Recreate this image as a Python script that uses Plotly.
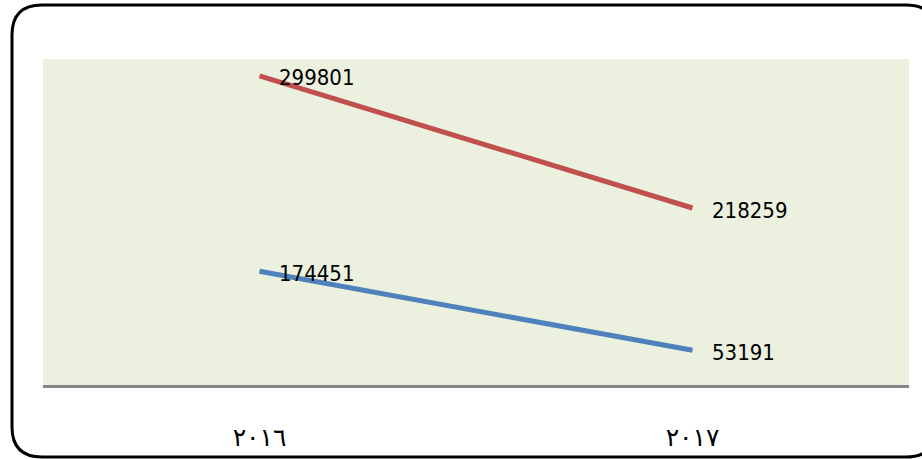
import plotly.graph_objects as go

years = ["٢٠١٦", "٢٠١٧"]
series_blue = [174451, 53191]
series_red = [299801, 218259]

BLUE = "#4F81BD"
RED = "#C0504D"
LABEL_FONT = dict(family="DejaVu Sans Condensed", size=22, color="black")

fig = go.Figure()

# stacked lines, no fill (the red line sits on top of the blue one)
stack = [0, 0]
for vals, col in [(series_blue, BLUE), (series_red, RED)]:
    fig.add_trace(go.Scatter(
        x=years, y=vals, stackgroup="one", fill="none",
        mode="lines", line=dict(color=col, width=5),
        showlegend=False, hoverinfo="skip",
    ))
    stack = [s + v for s, v in zip(stack, vals)]
    for yr, top, v in zip(years, stack, vals):
        fig.add_annotation(x=yr, y=top, text=str(v), showarrow=False,
                           xanchor="left", yanchor="middle", xshift=17, yshift=-2,
                           font=LABEL_FONT)

W, H = 922, 459
ml, mr, mt, mb = 43, 13, 59, 74
pw, ph = W - ml - mr, H - mt - mb


def px(x):
    return (x - ml) / pw


def py(y):
    return (H - mb - y) / ph


# rounded outer frame (right edge runs off the page)
L, R, T, B = px(12), px(936), py(5), py(457)
rx, ry = 30 / pw, 30 / ph
path = (f"M {L+rx},{T} L {R-rx},{T} Q {R},{T} {R},{T-ry} L {R},{B+ry} Q {R},{B} {R-rx},{B} "
        f"L {L+rx},{B} Q {L},{B} {L},{B+ry} L {L},{T-ry} Q {L},{T} {L+rx},{T} Z")
fig.add_shape(type="path", path=path, xref="paper", yref="paper",
              line=dict(color="black", width=3), layer="above")

fig.update_layout(
    width=W, height=H,
    margin=dict(l=ml, r=mr, t=mt, b=mb, autoexpand=False),
    paper_bgcolor="white", plot_bgcolor="#EBF1DE",
    xaxis=dict(type="category", range=[-0.5, 1.5], showgrid=False, zeroline=False,
               showline=True, linecolor="#868686", linewidth=3, ticks="",
               tickfont=dict(family="DejaVu Sans, Noto Sans", size=25, color="black"),
               ticklabelstandoff=28, automargin=False),
    yaxis=dict(range=[0, 500000], showgrid=False, zeroline=False, showticklabels=False,
               showline=False, automargin=False),
)

fig.write_html("out.html", config={"displayModeBar": False},
               post_script="document.body.style.margin='0';")
